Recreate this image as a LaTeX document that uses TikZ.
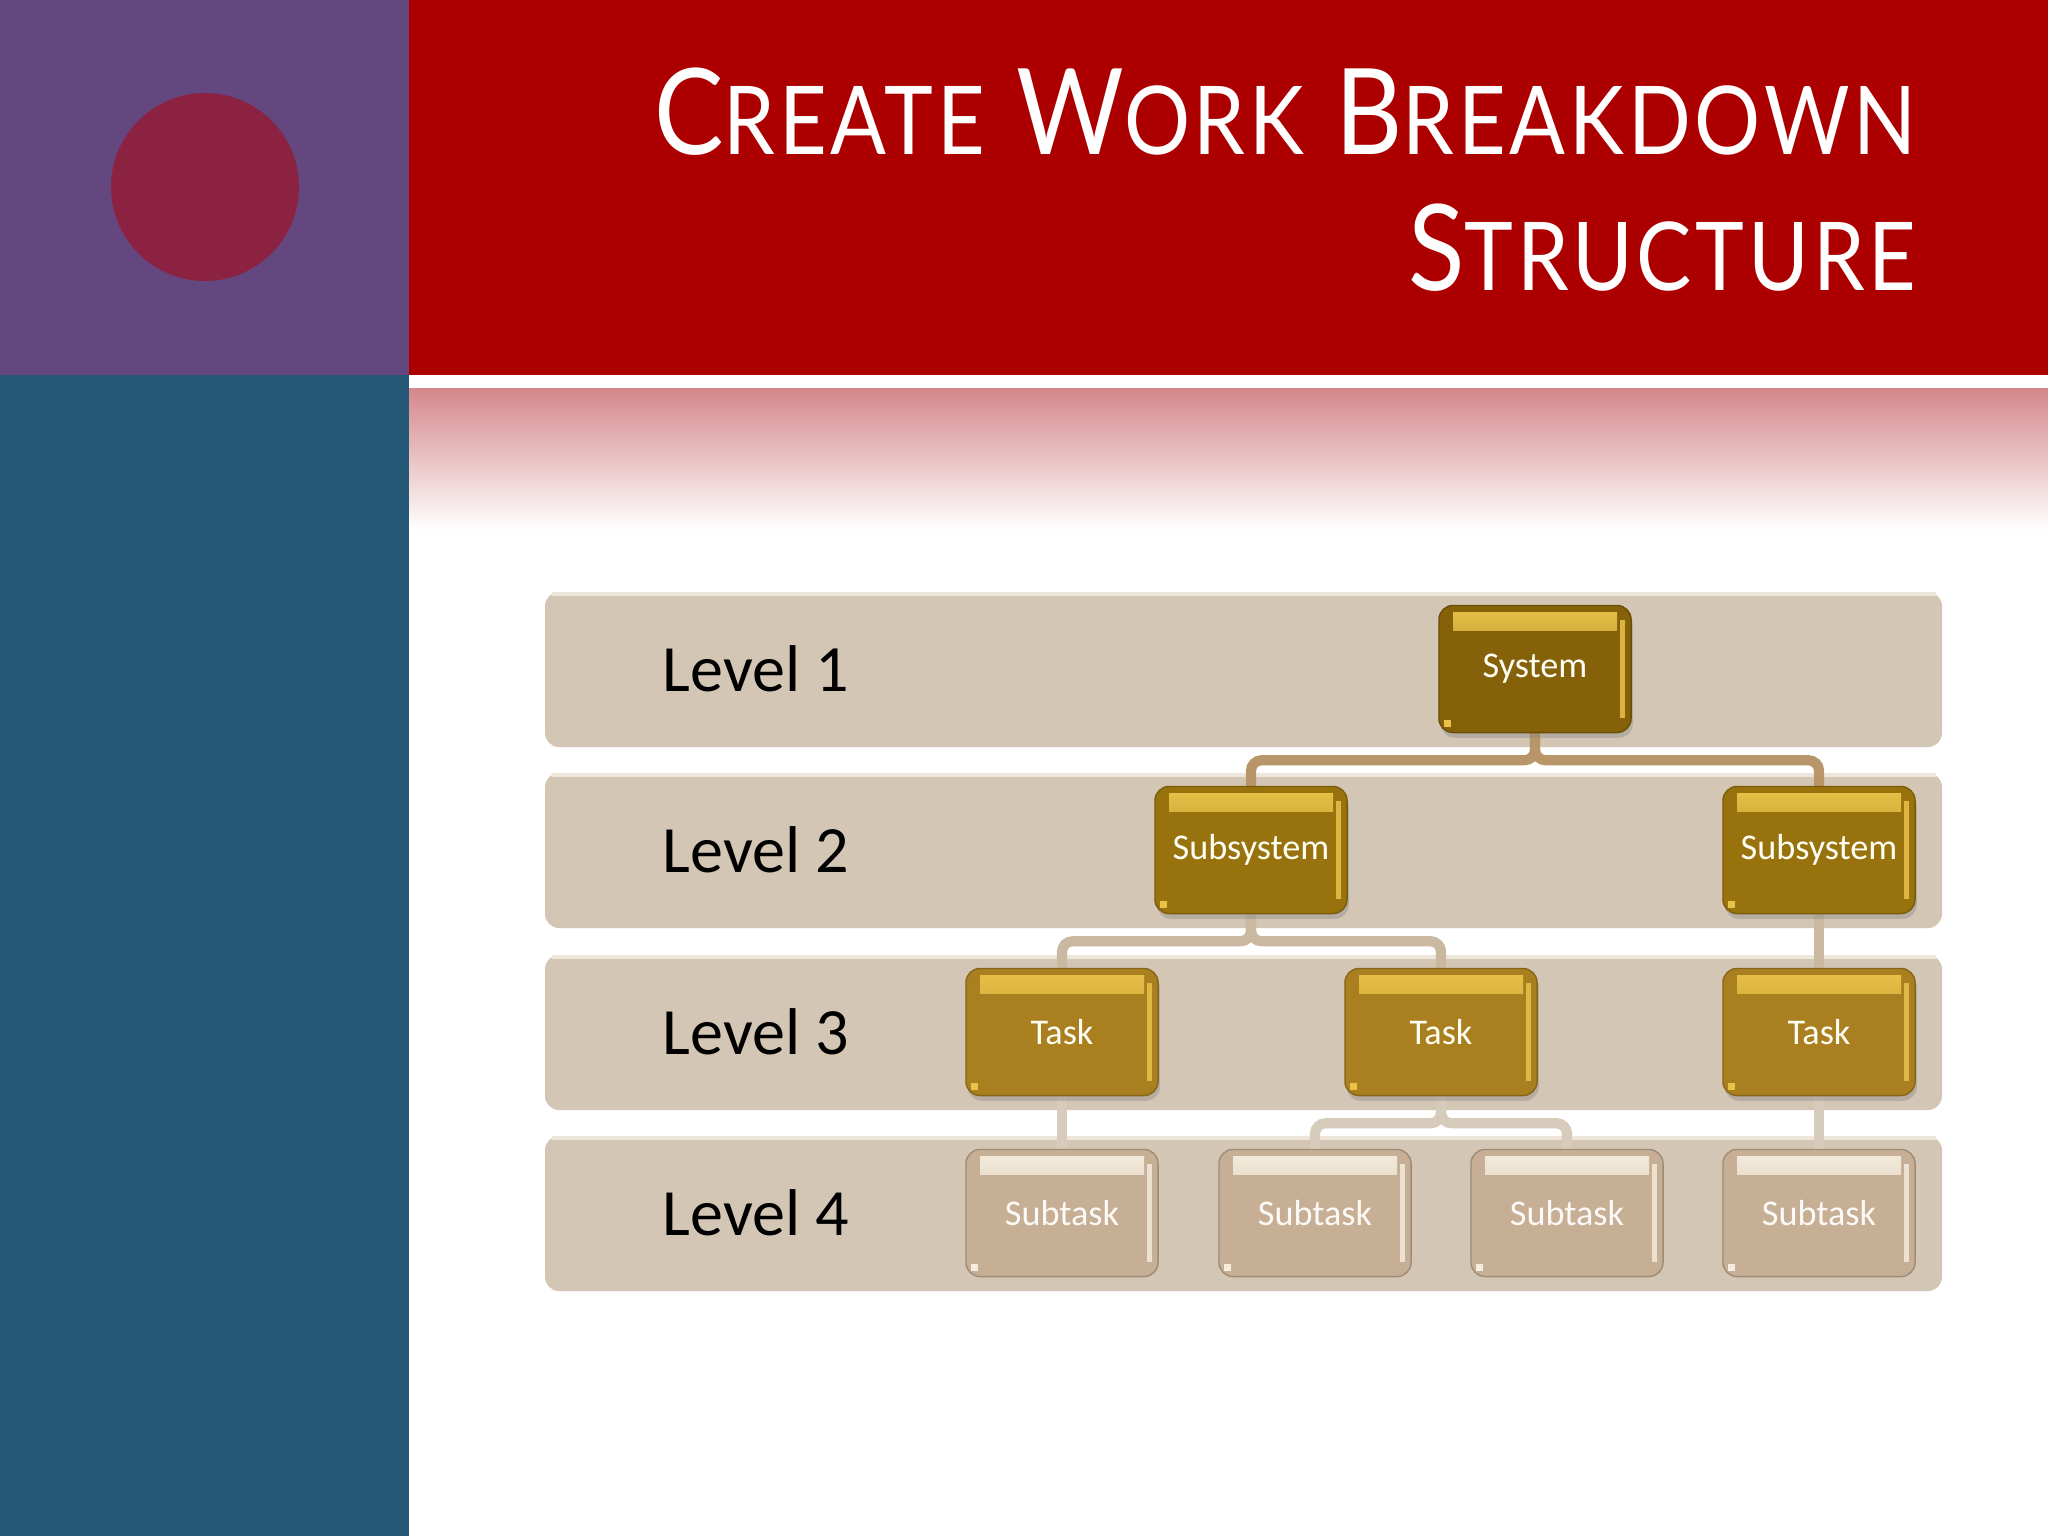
\documentclass[tikz,border=0pt]{standalone}
\usepackage{fontspec}
\usepackage{tikz}
\usetikzlibrary{shadows}
\setmainfont{Carlito}
\newfontfamily\titlefont[FakeStretch=0.87, LetterSpace=4]{Lato}
\definecolor{slidepurple}{HTML}{65477F}
\definecolor{slideteal}{HTML}{255876}
\definecolor{slidedot}{HTML}{8B2242}
\definecolor{slidered}{HTML}{AC0000}
\definecolor{slidepink}{HTML}{D4878A}
\definecolor{bandfill}{HTML}{D3C6B5}
\definecolor{bandedge}{HTML}{EEE6DA}
\definecolor{sysfill}{HTML}{85620A}
\definecolor{subfill}{HTML}{98730D}
\definecolor{taskfill}{HTML}{A97F1F}
\definecolor{subtfill}{HTML}{C6AF95}
\definecolor{goldhl}{HTML}{E9C24A}
\definecolor{subthl}{HTML}{F4ECDD}
\definecolor{linkA}{HTML}{B8966A}
\definecolor{linkB}{HTML}{CBB8A0}
\definecolor{linkC}{HTML}{D7CBBB}
\newcommand{\capsc}[2]{#1{\fontsize{27pt}{27pt}\selectfont #2}}
\pgfdeclarelayer{bg}
\pgfdeclarelayer{links}
\pgfsetlayers{bg,links,main}
\tikzset{
  wbsbox/.style 2 args={rounded corners=4pt, fill=#1, draw=#1!80!black,
    line width=0.4pt, minimum width=1.92cm, minimum height=1.27cm,
    inner sep=0pt, font=\fontsize{10.3pt}{12pt}\selectfont,
    path picture={
      \shade[top color=#2, bottom color=#1, sharp corners, draw=none]
        ([shift={(4pt,-2pt)}]path picture bounding box.north west)
        rectangle ([shift={(-4pt,-7pt)}]path picture bounding box.north east);
      \fill[#2, opacity=0.85, sharp corners, draw=none]
        ([shift={(-3.2pt,-4pt)}]path picture bounding box.north east)
        rectangle ([shift={(-1.8pt,4pt)}]path picture bounding box.south east);
      \fill[#2, sharp corners, draw=none]
        ([shift={(1.5pt,1.5pt)}]path picture bounding box.south west)
        rectangle ([shift={(3.5pt,3.5pt)}]path picture bounding box.south west);
    }},
  goldbox/.style={wbsbox={#1}{goldhl}, text=white!96!yellow,
    drop shadow={opacity=0.35, shadow xshift=0.5pt, shadow yshift=-1.5pt}},
  paleox/.style={wbsbox={subtfill}{subthl}, text=white!95!brown},
  level/.style={anchor=west, inner sep=0pt, text=black,
    font=\fontsize{18.8pt}{22pt}\selectfont},
  titletext/.style={anchor=base east, inner sep=0pt, text=white,
    font=\titlefont\fontsize{34pt}{34pt}\selectfont},
  link/.style={line width=2.9pt, rounded corners=3pt, color=#1},
  band/.style={fill=bandfill, rounded corners=4pt}
}

\begin{document}
\begin{tikzpicture}[x=0.01cm, y=-0.01cm]
  \useasboundingbox (0,0) rectangle (2048,1536);

  \begin{pgfonlayer}{bg}
    % slide backdrop
    \fill[white] (0,0) rectangle (2048,1536);
    \fill[slidepurple] (0,0) rectangle (409,375);
    \fill[slideteal] (0,375) rectangle (409,1536);
    \fill[slidedot] (205,187) circle (94);
    \fill[slidered] (409,0) rectangle (2048,375);
    \shade[top color=slidepink, middle color=slidepink!25!white, bottom color=white]
      (409,388) rectangle (2048,530);
    % level bands
    \foreach \top in {592,773,955,1136} {
      \fill[band] (545,\top) rectangle (1942,\top+155);
      \draw[bandedge, line width=1.2pt] (552,\top+2) -- (1936,\top+2);
    }
  \end{pgfonlayer}

  % title
  \node[titletext] (titleA) at (1917,154)
    {\capsc{C}{REATE} \capsc{W}{ORK} \capsc{B}{REAKDOWN}};
  \node[titletext] (titleB) at (1917,290) {\capsc{S}{TRUCTURE}};

  % level labels
  \node[level] (lvlA) at (662,669) {Level 1};
  \node[level] (lvlB) at (662,850) {Level 2};
  \node[level] (lvlC) at (662,1032) {Level 3};
  \node[level] (lvlD) at (662,1213) {Level 4};

  % hierarchy
  \node[goldbox=sysfill] (sys) at (1535,669) {System};
  \node[goldbox=subfill] (subA) at (1251,850) {Subsystem};
  \node[goldbox=subfill] (subB) at (1819,850) {Subsystem};
  \node[goldbox=taskfill] (taskA) at (1062,1032) {Task};
  \node[goldbox=taskfill] (taskB) at (1441,1032) {Task};
  \node[goldbox=taskfill] (taskC) at (1819,1032) {Task};
  \node[paleox] (subtA) at (1062,1213) {Subtask};
  \node[paleox] (subtB) at (1315,1213) {Subtask};
  \node[paleox] (subtC) at (1567,1213) {Subtask};
  \node[paleox] (subtD) at (1819,1213) {Subtask};

  \begin{pgfonlayer}{links}
    \draw[link=linkA] (sys.south) -- ++(0,27) -| (subA.north);
    \draw[link=linkA] (sys.south) -- ++(0,27) -| (subB.north);
    \draw[link=linkB] (subA.south) -- ++(0,27) -| (taskA.north);
    \draw[link=linkB] (subA.south) -- ++(0,27) -| (taskB.north);
    \draw[link=linkB] (subB.south) -- (taskC.north);
    \draw[link=linkC] (taskA.south) -- (subtA.north);
    \draw[link=linkC] (taskB.south) -- ++(0,27) -| (subtB.north);
    \draw[link=linkC] (taskB.south) -- ++(0,27) -| (subtC.north);
    \draw[link=linkC] (taskC.south) -- (subtD.north);
  \end{pgfonlayer}
\end{tikzpicture}
\end{document}
